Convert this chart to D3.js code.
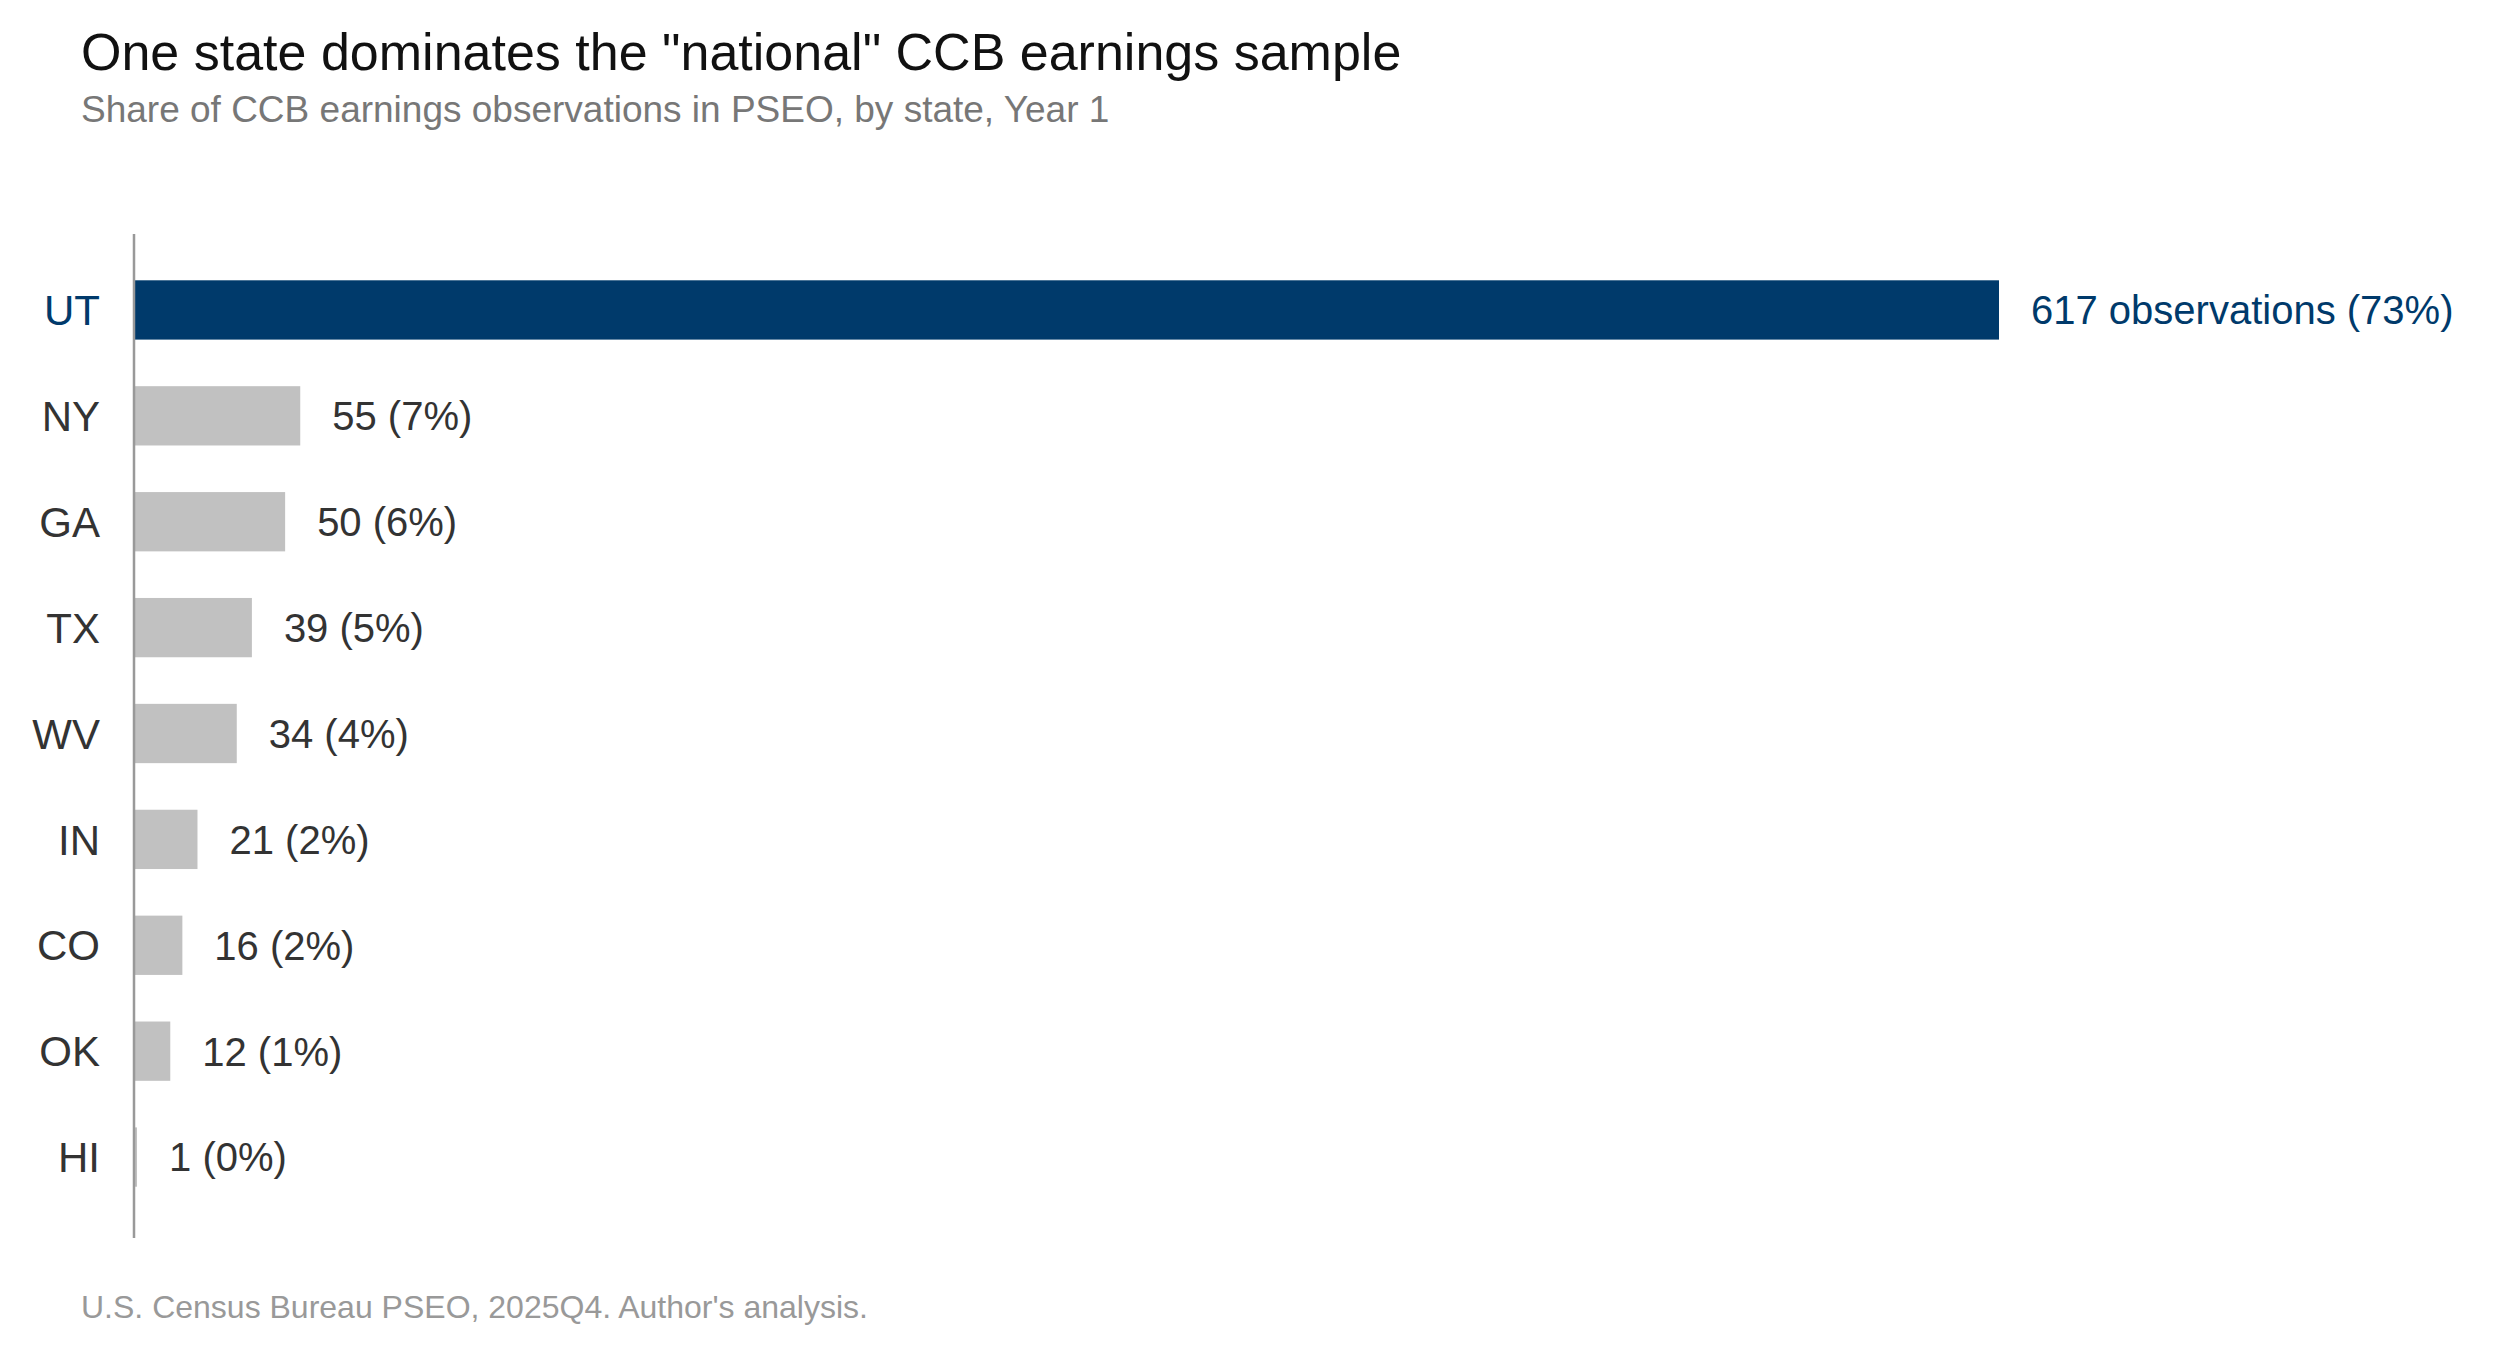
<!DOCTYPE html>
<html><head><meta charset="utf-8">
<script src="https://cdn.jsdelivr.net/npm/d3@7"></script>
<style>body{margin:0;background:#fff}</style></head>
<body><svg id="c" width="2515" height="1349"></svg>
<script>
const states = ["UT","NY","GA","TX","WV","IN","CO","OK","HI"];
const counts = [617,55,50,39,34,21,16,12,1];
const shares = ["73%","7%","6%","5%","4%","2%","2%","1%","0%"];
const data = states.map((s,i)=>({s, v:counts[i], p:shares[i]}));
const svg = d3.select("#c");
const font = "Liberation Sans, Arial, sans-serif";
const x = d3.scaleLinear().domain([0,617]).range([134,1999]);
const y = d3.scaleBand().domain(states).range([257,1210]).paddingInner(0.44).paddingOuter(0.22);
svg.append("text").attr("x",81).attr("y",70).attr("font-family",font).attr("font-size",52).attr("fill","#111").text('One state dominates the "national" CCB earnings sample');
svg.append("text").attr("x",81).attr("y",122).attr("font-family",font).attr("font-size",37).attr("fill","#777").text("Share of CCB earnings observations in PSEO, by state, Year 1");
svg.selectAll("rect.b").data(data).join("rect").attr("x",x(0)).attr("y",d=>y(d.s)).attr("width",d=>x(d.v)-x(0)).attr("height",y.bandwidth()).attr("fill",d=>d.s==="UT"?"#003a6b":"#c1c1c1");
svg.append("line").attr("x1",134).attr("x2",134).attr("y1",234).attr("y2",1238).attr("stroke","#999").attr("stroke-width",2.5);
svg.selectAll("text.s").data(data).join("text").attr("x",100).attr("y",d=>y(d.s)+y.bandwidth()/2).attr("dy","0.36em").attr("text-anchor","end").attr("font-family",font).attr("font-size",42).attr("fill",d=>d.s==="UT"?"#003a6b":"#333").text(d=>d.s);
svg.selectAll("text.v").data(data).join("text").attr("x",d=>x(d.v)+32).attr("y",d=>y(d.s)+y.bandwidth()/2).attr("dy","0.36em").attr("font-family",font).attr("font-size",40).attr("fill",d=>d.s==="UT"?"#003a6b":"#333").text(d=>d.s==="UT"?`${d.v} observations (${d.p})`:`${d.v} (${d.p})`);
svg.append("text").attr("x",81).attr("y",1318).attr("font-family",font).attr("font-size",32).attr("fill","#999").text("U.S. Census Bureau PSEO, 2025Q4. Author's analysis.");
</script></body></html>
